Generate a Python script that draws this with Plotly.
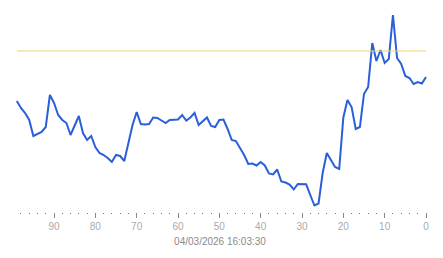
import plotly.graph_objects as go

# x positions (seconds ago), 99 -> 0
x_vals = list(range(99, -1, -1))
# series values
y_vals = [111, 104, 99, 92, 76, 78, 80, 85, 117, 109,
          97, 92, 89, 77, 86, 96, 79, 72, 76, 65,
          59, 57, 54, 50, 57, 56, 51, 69, 87, 100,
          88, 87.5, 88, 94.5, 94, 91.5, 89, 92, 92, 92.5,
          97, 91.5, 94.5, 99, 87, 91, 94.5, 86, 85, 92,
          92.5, 83, 72, 71, 64, 57, 48, 48.5, 46.5, 50,
          46.5, 38.5, 37.5, 42.5, 30.5, 29.5, 27.5, 22.5, 28, 27.7,
          27.7, 17, 6.5, 8.5, 39, 59, 52, 45, 43, 94.5,
          112, 105, 83, 85, 118, 125, 169, 151, 162, 149,
          153, 197, 154, 148, 136, 134, 128, 130, 128.5, 135]
threshold = [161]
axis_title = "04/03/2026 16:03:30"
tick_vals = [90, 80, 70, 60, 50, 40, 30, 20, 10, 0]
minor_tick_vals = [v for v in range(2, 99, 2) if v % 10 != 0]

fig = go.Figure()
fig.add_trace(go.Scatter(x=x_vals, y=y_vals, mode="lines",
                         line=dict(color="#2a5fd9", width=2), hoverinfo="skip"))
fig.add_trace(go.Scatter(x=[x_vals[0], x_vals[-1]], y=threshold * 2, mode="lines",
                         line=dict(color="#f0d470", width=1), hoverinfo="skip"))

fig.update_layout(
    width=443, height=258,
    margin=dict(l=0, r=3, t=5, b=46),
    paper_bgcolor="white", plot_bgcolor="white",
    showlegend=False,
    font=dict(family="Liberation Sans, Arial, sans-serif"),
    xaxis=dict(range=[103.07, -3.387], tickmode="array", tickvals=tick_vals,
               showgrid=False, zeroline=False, showline=False,
               ticks="outside", ticklen=5, tickwidth=1, tickcolor="#888888",
               tickfont=dict(size=10, color="#aaaaaa"),
               minor=dict(tickmode="array", tickvals=minor_tick_vals, ticks="outside",
                          ticklen=1, tickwidth=1, tickcolor="#777777", showgrid=False),
               title=dict(text=axis_title, font=dict(size=10, color="#8a8a8a"), standoff=6)),
    yaxis=dict(range=[0, 207], visible=False, showgrid=False, zeroline=False),
)

fig.write_html("out.html")
